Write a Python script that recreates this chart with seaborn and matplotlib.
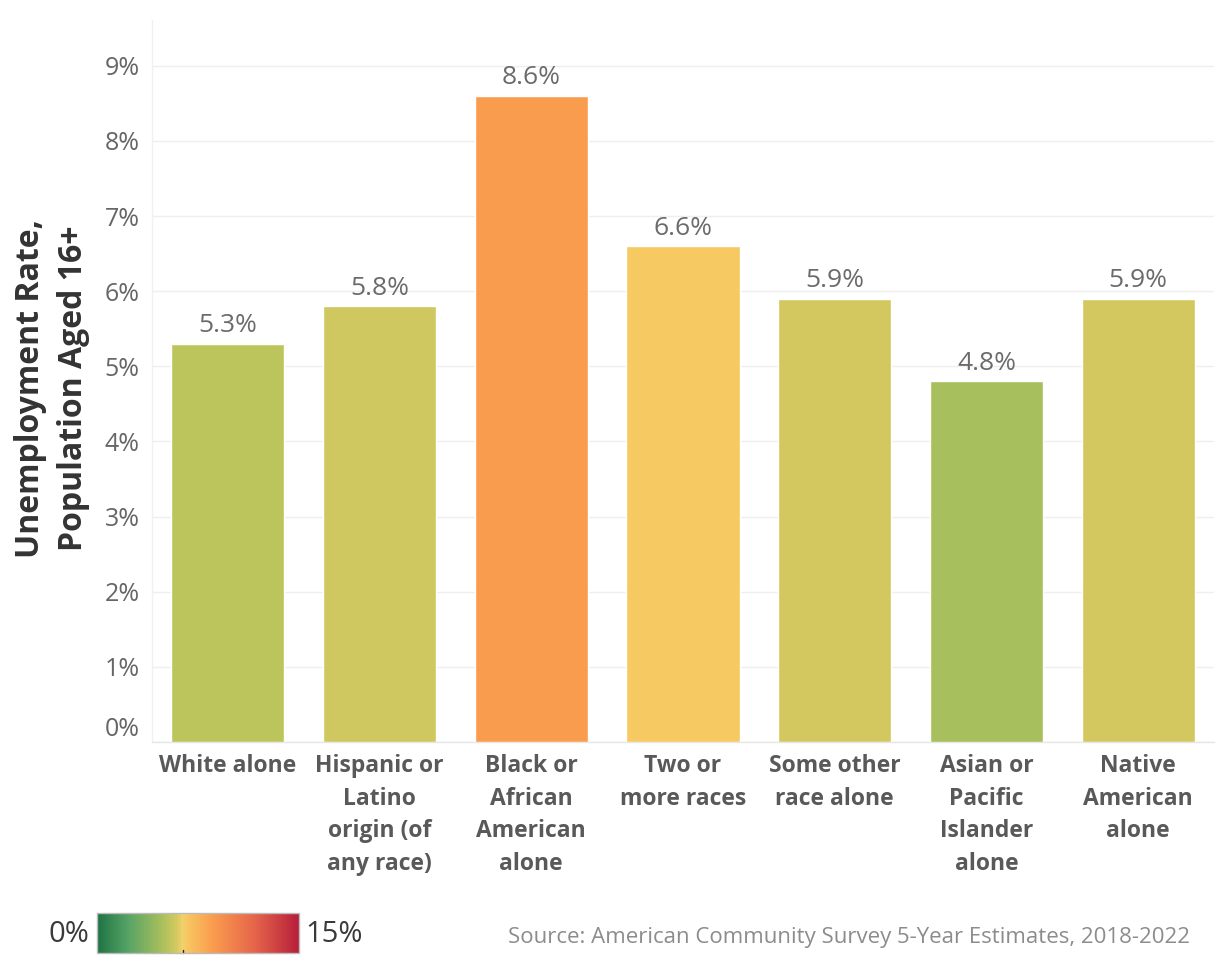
import numpy as np
import pandas as pd
import matplotlib
matplotlib.use("Agg")
import matplotlib.pyplot as plt
from matplotlib.colors import LinearSegmentedColormap, Normalize
from matplotlib.cm import ScalarMappable
import matplotlib.transforms as mtransforms
import seaborn as sns

# ---- data -------------------------------------------------------------
groups = [
    "White alone",
    "Hispanic or\nLatino\norigin (of\nany race)",
    "Black or\nAfrican\nAmerican\nalone",
    "Two or\nmore races",
    "Some other\nrace alone",
    "Asian or\nPacific\nIslander\nalone",
    "Native\nAmerican\nalone",
]
rates = [5.3, 5.8, 8.6, 6.6, 5.9, 4.8, 5.9]
y_ticks = [0, 1, 2, 3, 4, 5, 6, 7, 8, 9]
scale_min, scale_max = 0, 15
scale_marker = 6.4
source_note = "Source: American Community Survey 5-Year Estimates, 2018-2022"

# ---- colour scale (green -> yellow -> red) ----------------------------
anchors = [
    (0.000, "#1e7344"),
    (0.150, "#55a265"),
    (0.320, "#a8bf5c"),
    (0.353, "#bcc45c"),
    (0.393, "#d4c860"),
    (0.4245, "#f0d26c"),
    (0.440, "#f6c862"),
    (0.573, "#fa9c4e"),
    (0.780, "#e6654b"),
    (1.000, "#b61f3a"),
]
cmap = LinearSegmentedColormap.from_list("rate_scale", anchors)
norm = Normalize(scale_min, scale_max)

df = pd.DataFrame({"group": groups, "rate": rates})
palette = {g: cmap(norm(r)) for g, r in zip(groups, rates)}

# ---- figure -----------------------------------------------------------
sns.set_theme(style="white")
plt.rcParams["font.family"] = ["Open Sans", "DejaVu Sans"]

fig = plt.figure(figsize=(12.22, 9.69), dpi=100)
ax = fig.add_axes([152 / 1222, 1 - 742 / 969, 1062 / 1222, 722 / 969])

sns.barplot(data=df, x="group", y="rate", hue="group", palette=palette,
            legend=False, width=0.745, saturation=1, ax=ax, zorder=3)

ax.set_xlim(-0.5, len(groups) - 0.5)
ax.set_ylim(0, 9.61)

# value labels
for i, r in enumerate(rates):
    ax.annotate(f"{r:.1f}%", (i, r), xytext=(0, 4), textcoords="offset points",
                ha="center", va="bottom", fontsize=19, color="#6b6b6b")

# y axis
ax.set_yticks(y_ticks)
ax.set_yticklabels([f"{t}%" for t in y_ticks], fontsize=18, color="#666666")
ax.tick_params(axis="y", length=0, pad=9)
ax.yaxis.grid(True, color="#efefef", linewidth=1, zorder=0)
zero_lbl = ax.get_yticklabels()[0]
zero_lbl.set_transform(zero_lbl.get_transform() +
                       mtransforms.ScaledTranslation(0, 15 / 100, fig.dpi_scale_trans))

ax.set_ylabel("Unemployment Rate,\nPopulation Aged 16+", fontsize=23,
              fontweight="bold", color="#333333", linespacing=1.4)
ax.yaxis.set_label_coords(-0.058, 0.49)

# x axis
ax.set_xlabel("")
ax.set_xticks(range(len(groups)))
ax.set_xticklabels(groups, fontsize=16.5, fontweight="bold", color="#595959",
                   linespacing=1.47, va="top")
ax.tick_params(axis="x", length=0, pad=9)
ax.set_xticks(np.arange(-0.5, len(groups), 1), minor=True)
ax.tick_params(axis="x", which="minor", length=6, color="#ececec", width=1)

for side in ["top", "right"]:
    ax.spines[side].set_visible(False)
ax.spines["left"].set_color("#f0f0f0")
ax.spines["bottom"].set_color("#e6e6e6")
ax.spines["left"].set_linewidth(1)
ax.spines["bottom"].set_linewidth(1)

# ---- colour legend ----------------------------------------------------
cax = fig.add_axes([97 / 1222, 1 - 953 / 969, 202 / 1222, 40 / 969])
cb = fig.colorbar(ScalarMappable(norm=norm, cmap=cmap), cax=cax,
                  orientation="horizontal")
cb.set_ticks([])
cb.outline.set_edgecolor("#bbbbbb")
cb.outline.set_linewidth(1)
cax.plot([scale_marker, scale_marker], [0, 0.08], color="#222222", lw=1,
         transform=cax.get_xaxis_transform(), clip_on=False)
cax.text(-0.04, 0.45, f"{scale_min}%", transform=cax.transAxes, ha="right",
         va="center", fontsize=21, color="#3a3a3a")
cax.text(1.03, 0.45, f"{scale_max}%", transform=cax.transAxes, ha="left",
         va="center", fontsize=21, color="#3a3a3a")

fig.text(1190 / 1222, 1 - 937 / 969, source_note, ha="right", va="center",
         fontsize=16, color="#8c8c8c")

fig.savefig("out.png", dpi=100, facecolor="white")
